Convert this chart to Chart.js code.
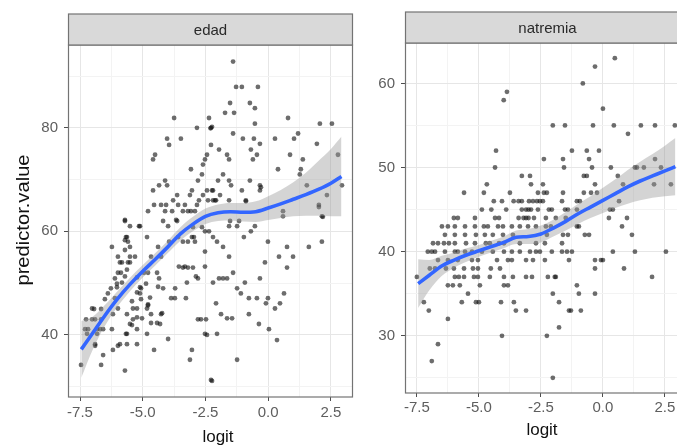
<!DOCTYPE html>
<html>
<head>
<meta charset="utf-8">
<script src="https://cdn.jsdelivr.net/npm/chart.js@4.4.1/dist/chart.umd.min.js"></script>
<style>
  html, body { margin: 0; width: 677px; height: 446px; overflow: hidden; background: #fff; }
  canvas { position: absolute; top: 0; filter: blur(0.45px); }
  #edad { left: 0; }
  #natremia { left: 360px; }
</style>
</head>
<body>
<canvas id="edad" width="360" height="446"></canvas>
<canvas id="natremia" width="337" height="446"></canvas>
<script>
// grid breaks (major ones get a label) and loess fit
const xBreaks = [-7.5, -6.25, -5, -3.75, -2.5, -1.25, 0, 1.25, 2.5];
const xLabels = [-7.5, -5, -2.5, 0, 2.5];
const edadBreaks = [30, 40, 50, 60, 70, 80, 90];
const edadLabels = [40, 60, 80];
const natremiaBreaks = [25, 30, 35, 40, 45, 50, 55, 60];
const natremiaLabels = [30, 40, 50, 60];

const fitX = [-7.45, -7, -6.5, -6, -5.5, -5, -4.5, -4, -3.5, -3, -2.5, -2, -1.5, -1, -0.5, 0, 0.5, 1, 1.5, 2, 2.5, 2.92];
const edadFit = [37.2, 40.3, 43.8, 47.0, 49.8, 52.3, 54.6, 57.0, 59.5, 61.4, 62.9, 63.6, 63.8, 63.7, 63.8, 64.5, 65.3, 66.2, 67.1, 68.1, 69.3, 70.6];
const edadUpper = [42.7, 43.5, 45.8, 48.5, 51.1, 53.5, 55.8, 58.2, 60.8, 62.8, 64.4, 65.2, 65.5, 65.5, 65.8, 66.8, 68.0, 69.5, 71.3, 73.6, 75.9, 78.3];
const edadLower = [31.7, 37.1, 41.8, 45.5, 48.5, 51.1, 53.4, 55.8, 58.2, 60.0, 61.4, 62.0, 62.1, 61.9, 61.8, 62.2, 62.6, 62.9, 63.0, 63.0, 62.9, 62.9];
const natremiaFit = [36.2, 37.2, 38.3, 39.0, 39.6, 40.1, 40.6, 41.1, 41.7, 41.8, 42.1, 42.8, 43.6, 44.5, 45.3, 46.1, 46.9, 47.7, 48.4, 49.0, 49.6, 50.1];
const natremiaUpper = [39.1, 39.0, 39.5, 39.9, 40.4, 40.8, 41.3, 41.8, 42.5, 42.7, 43.1, 43.8, 44.7, 45.7, 46.6, 47.6, 48.6, 49.7, 50.7, 51.6, 52.6, 53.5];
const natremiaLower = [33.3, 35.4, 37.1, 38.1, 38.8, 39.4, 39.9, 40.4, 40.9, 40.9, 41.1, 41.8, 42.5, 43.3, 44.0, 44.6, 45.2, 45.7, 46.1, 46.4, 46.6, 46.7];

// observations: [logit, predictor.value]
const edadPoints = [
  [-3.75,81.9],[-2.36,81.9],[-2.84,80],[-2.28,80],[-2.24,80.2],[-2.3,79.9],[-4.03,77.9],[-3.95,76.7],[-3.48,77.9],[-2.28,76.7],
  [-4.51,74.8],[-4.59,73.9],[-2.44,74.8],[-2.52,73.9],[-2.6,72.9],[-3.08,72],[-2.64,71],[-2.8,69.8],[-4.11,69.8],[-4.35,68.9],
  [-4.03,68.9],[-4.59,67.9],[-3.04,67.9],[-3.12,67],[-2.44,67.9],[-2.24,67.9],[-4.55,65.1],[-4.79,63.9],[-4.27,65.1],[-4.11,63.9],
  [-3.79,66],[-3.63,67],[-3.83,63.9],[-3.4,63.9],[-3.32,65.1],[-3.2,63.9],[-2.92,63.9],[-2.76,66],[-2.4,66],[-5.71,62],
  [-4.19,62],[-3.63,62],[-3.59,65.1],[-3.08,63.9],[-2.84,65.1],[-2.2,66],[-2.08,66],[-2.6,67],[-4.07,65.1],[-5.11,61],
  [-1.4,92.8],[-1.28,87.9],[-1.05,87.9],[-0.41,87.9],[-1.52,84.8],[-1.72,82.9],[-1.36,82.9],[-0.73,84.8],[-0.53,83.8],[-0.53,80.8],
  [0.79,81.9],[2.06,80.8],[2.54,80.8],[-1.4,78.9],[-1.01,77.9],[-0.57,77.9],[-0.33,76.9],[-0.69,75.8],[-0.45,74.8],[-0.61,73.9],
  [-1.96,75.8],[-1.64,74.8],[-1.56,73.9],[0.27,77.9],[1.03,77.9],[1.19,78.9],[0.87,74.8],[1.38,73.9],[1.94,76.9],[2.78,74.8],
  [0.39,72],[1.3,72],[1.26,71],[-1.8,71],[-2,69.8],[-1.56,69.8],[-1.48,68.9],[-0.73,69.8],[-0.33,68.9],[-0.33,67.9],
  [-1.05,67.9],[-2.2,67.9],[1.54,68.9],[2.94,68.9],[2.34,67],[2.02,65.1],[2.14,62.9],[-1.92,67],[-2.12,66],[-1.56,66],
  [-0.89,66],[0.59,63.9],[0.59,62.9],[-1.52,62],[-1.16,62],[-1.24,61],[-0.89,65.8],[-0.29,68.5],[2.02,64.7],[2.18,62.8],
  [-5.71,62.2],[-5.15,61],[-5.51,61],[-3.99,61],[-3.67,62.2],[-5.63,58.9],[-5.59,58],[-5.51,57],[-4.83,58.9],[-6.23,57],
  [-5.99,55.1],[-5.91,54],[-5.83,54],[-5.51,55.1],[-5.51,54],[-5.31,55.1],[-4.39,57],[-4.27,55.1],[-4.67,55.1],[-3.95,58],
  [-3.4,58],[-2.92,58],[-2.96,58.9],[-5.99,52],[-5.87,52],[-6.11,50.9],[-6.03,49.9],[-6.27,49],[-6.39,48],[-6.51,46.9],
  [-6.66,45],[-6.94,45],[-7.02,43],[-7.18,41.1],[-6.66,43],[-6.58,41.1],[-4.95,52],[-4.79,52],[-4.43,52],[-4.35,50.9],
  [-4.87,49.9],[-5.07,49],[-5.11,48],[-5.07,46.9],[-4.79,45.7],[-4.83,45.1],[-4.67,44],[-5.23,45.1],[-5.63,44],[-5.39,43],
  [-5.51,42.1],[-5.23,41.1],[-4.19,49],[-3.72,47.1],[-3.28,47.1],[-4.27,44],[-4.31,42.1],[-3.99,39.2],[-3.56,53.2],[-3.32,53.2],
  [-2.88,51.3],[-2.52,53.2],[-2.52,56.1],[-2.68,43],[-2.52,40.2],[-3.04,37.1],[-3.12,35.2],[-2.28,31.3],[-7.46,34.2],[-6.66,34.2],
  [-6.58,36.1],[-6.9,38.2],[-6.19,37.1],[-5.91,38.2],[-5.63,38.2],[-5.23,38.2],[-5.71,33.1],[-5.63,40.2],[-4.83,40.2],[-4.55,37.1],
  [-2.44,40],[-2.48,43],[-2.8,43],[-7.02,45.1],[-6.9,43],[-6.82,41.1],[-6.19,44],[-5.99,45.1],[-6.11,47.1],[-6.03,49.2],
  [-5.83,50.1],[-5.71,51.3],[-5.63,52.6],[-5.59,54],[-5.71,56.4],[-5.71,58.3],[-5.67,58.9],[-5.23,51.1],[-5.11,49.2],[-5.23,48.2],
  [-5.43,46.5],[-5.39,45.1],[-5.23,43.4],[-5.43,41.9],[-4.79,45.9],[-4.71,47.2],[-4.39,49.3],[-6.23,41.1],[-6.7,41.1],[-7.26,43],
  [-7.3,41.1],[-7.22,40.2],[-6.82,40.2],[-6.9,37.9],[-5.99,37.9],[-5.67,40.2],[-4.67,42.3],[-4.43,42.3],[-5.03,43.2],[-4.23,44.2],
  [-3.87,47.1],[-3.71,49],[-3.4,53],[-3.2,53],[-3.0,53],[-3.24,50.1],[-2.8,50.9],[-3.59,58.9],[-3.2,58],[-3.04,58.9],
  [-2.52,60],[-2.36,60],[-3.0,60.8],[-2.64,60.8],
  [-1.56,61],[-0.53,61],[-0.69,60],[-0.97,58.9],[-2.2,58.9],[-2.04,58],[-1.8,57],[-1.56,55.1],[-0.01,58],[0.75,57],
  [1.62,57],[2.14,58],[0.43,55.1],[0.99,55.1],[0.75,53],[-0.13,54],[-1.4,52],[-0.33,50.9],[-0.93,50.1],[-1.96,50.9],
  [-1.8,50.9],[-1.64,50.9],[-2.2,50.1],[-1.24,49],[-1.09,48],[-0.77,47.1],[-0.45,47.1],[-0.01,47.1],[-0.09,46.1],[0.27,45.1],
  [0.47,46.1],[0.63,48],[-2.08,46.1],[-1.88,44],[-1.64,43.2],[-1.44,43.2],[-0.77,44],[-0.37,42.1],[0.03,41.1],[0.35,39],
  [-2.04,40.2],[-1.24,35.2],[-2.24,31.1]
];

const natremiaPoints = [
  [0.48,63],[-0.32,62],[-0.81,60],[-3.87,59],[-4.0,58],[0.0,57],
  [-2.02,55],[-1.53,55],[-0.4,55],[0.44,55],[1.53,55],[2.1,55],[2.9,55],[1.01,54],
  [-4.31,52],[-1.25,52],[-0.65,52],[-0.16,52],[-2.38,51],[-1.61,51],[-0.56,51],[2.1,51],
  [-4.35,50],[-1.57,50],[-0.44,50],[0.32,50],[1.29,50],[1.37,50],[1.65,50],[2.34,50],
  [-3.27,49],[-2.94,49],[-0.77,49],[-0.65,49],[0.6,49],
  [-4.68,48],[-2.9,48],[-2.42,48],[-0.32,48],[0.81,48],[2.06,48],[2.74,48],
  [-5.6,47],[-4.8,47],[-3.75,47],[-2.62,47],[-2.38,47],[-2.26,47],[-1.61,47],[-0.77,47],[-0.48,47],[-0.24,47],
  [-4.4,46],[-4.07,46],[-3.6,46],[-3.4,46],[-3.27,46],[-2.98,46],[-2.82,46],[-2.66,46],[-2.54,46],[-2.42,46],[-1.65,46],[-1.05,46],[-0.93,46],[0.65,46],
  [-4.88,45],[-4.5,45],[-3.9,45],[-3.27,45],[-3.1,45],[-3.0,45],[-2.9,45],[-2.62,45],[-2.18,45],[-2.06,45],[-1.53,45],[-1.41,45],[-1.05,45],[0.28,45],[0.4,45],
  [-6.01,44],[-5.85,44],[-5.16,44],[-4.35,44],[-4.19,44],[-3.4,44],[-3.2,44],[-3.1,44],[-3.0,44],[-2.78,44],[-2.3,44],[-1.9,44],[-1.5,44],[0.24,44],[0.97,44],
  [-6.49,43],[-6.25,43],[-5.97,43],[-5.56,43],[-5.16,43],[-4.8,43],[-4.64,43],[-4.23,43],[-4.03,43],[-3.67,43],[-3.35,43],[-3.02,43],[-2.7,43],[-2.3,43],[-2.1,43],[-1.05,43],[-0.97,43],[0.77,43],
  [-6.37,42],[-5.97,42],[-5.56,42],[-5.12,42],[-4.76,42],[-4.44,42],[-4.03,42],[-3.63,42],[-2.26,42],[-1.61,42],[-1.41,42],[-0.73,42],[-0.56,42],[1.17,42],
  [-6.85,41],[-6.65,41],[-6.41,41],[-6.21,41],[-5.97,41],[-5.52,41],[-5.16,41],[-4.72,41],[-4.56,41],[-4.19,41],[-3.99,41],[-3.35,41],[-2.7,41],[-2.34,41],[-1.65,41],
  [-7.06,40],[-6.9,40],[-6.77,40],[-6.37,40],[-5.97,40],[-5.85,40],[-5.56,40],[-5.28,40],[-4.88,40],[-4.44,40],[-3.99,40],[-3.67,40],[-3.35,40],[-2.94,40],[-2.7,40],[-2.54,40],[-2.06,40],[-1.65,40],[-1.45,40],[-1.25,40],[0.4,40],[1.29,40],[2.54,40],
  [-6.65,39],[-6.25,39],[-5.85,39],[-5.28,39],[-5.04,39],[-4.27,39],[-3.83,39],[-3.67,39],[-3.1,39],[-2.82,39],[-2.34,39],[-1.37,39],[-0.32,39],[-0.08,39],[0.0,39],
  [-6.98,38],[-6.77,38],[-6.33,38],[-6.01,38],[-5.6,38],[-5.24,38],[-5.04,38],[-4.52,38],[-4.15,38],[-0.32,38],[0.85,38],
  [-7.5,37],[-5.97,37],[-5.81,37],[-5.6,37],[-5.2,37],[-5.04,37],[-4.56,37],[-3.99,37],[-3.63,37],[-3.1,37],[-2.86,37],[-2.22,37],[-1.94,37],[-1.9,37],[1.98,37],
  [-6.25,36],[-6.05,36],[-5.77,36],[-4.96,36],[-3.99,36],[-3.83,36],[-1.05,36],
  [-5.44,35],[-2.02,35],[-0.97,35],[-0.32,35],
  [-7.22,34],[-5.69,34],[-5.12,34],[-5.0,34],[-4.11,34],[-3.59,34],[-1.77,34],
  [-7.02,33],[-3.51,33],[-3.1,33],[-1.37,33],[-1.29,33],[-0.89,33],
  [-6.25,32],[-1.77,31],[-4.07,30],[-2.26,30],[-6.65,29],[-6.9,27],[-2.02,25]
];

const FONT = '"Liberation Sans", Arial, Helvetica, sans-serif';

// facet strip, panel border and axis titles, drawn around the chart area
const facetDecor = {
  id: 'facetDecor',
  afterDraw(chart, args, o) {
    const { ctx, chartArea: a } = chart;
    ctx.save();
    ctx.strokeStyle = '#737373';
    ctx.lineWidth = 1.2;
    ctx.strokeRect(a.left + 0.5, a.top, a.right - a.left - 1, a.bottom - a.top);

    const top = a.top - o.stripHeight;
    ctx.fillStyle = '#d9d9d9';
    ctx.fillRect(a.left + 0.5, top, a.right - a.left - 1, o.stripHeight);
    ctx.strokeRect(a.left + 0.5, top, a.right - a.left - 1, o.stripHeight);

    ctx.fillStyle = '#2a2a2a';
    ctx.textAlign = 'center';
    ctx.textBaseline = 'middle';
    ctx.font = '15px ' + FONT;
    ctx.fillText(o.label, (a.left + a.right) / 2, top + o.stripHeight / 2 + 1);

    ctx.fillStyle = '#111';
    ctx.font = '17px ' + FONT;
    ctx.fillText('logit', o.xTitle[0], o.xTitle[1]);

    if (o.yTitle) {
      ctx.translate(o.yTitlePos[0], o.yTitlePos[1]);
      ctx.rotate(-Math.PI / 2);
      ctx.scale(1.12, 1);
      ctx.font = '18px ' + FONT;
      ctx.fillText(o.yTitle, 0, 0);
    }
    ctx.restore();
  }
};

function gridFor(labels) {
  return {
    color: c => labels.includes(c.tick.value) ? '#e6e6e6' : '#f3f3f3',
    lineWidth: 1,
    tickLength: 4,
    tickWidth: 1,
    tickColor: c => labels.includes(c.tick.value) ? '#4d4d4d' : 'rgba(0,0,0,0)'
  };
}

function xy(xs, ys) {
  return xs.map((x, i) => ({ x: x, y: ys[i] }));
}

function makePanel(id, p) {
  return new Chart(document.getElementById(id), {
    type: 'scatter',
    data: {
      datasets: [
        {
          type: 'line', data: xy(fitX, p.fit), borderColor: '#3366ff', borderWidth: 3.6,
          pointRadius: 0, fill: false, cubicInterpolationMode: 'monotone', order: 0
        },
        {
          type: 'line', data: xy(fitX, p.upper), borderColor: 'rgba(0,0,0,0)', borderWidth: 1,
          pointRadius: 0, fill: '+1', backgroundColor: 'rgba(153,153,153,0.42)',
          cubicInterpolationMode: 'monotone', order: 1
        },
        {
          type: 'line', data: xy(fitX, p.lower), borderColor: 'rgba(0,0,0,0)', borderWidth: 1,
          pointRadius: 0, fill: false, cubicInterpolationMode: 'monotone', order: 2
        },
        {
          data: p.points.map(([x, y]) => ({ x, y })), pointRadius: 2.4,
          backgroundColor: 'rgba(20,20,20,0.62)', borderWidth: 0, order: 3
        }
      ]
    },
    options: {
      responsive: false,
      animation: false,
      events: [],
      layout: { padding: { left: 0, right: 7, top: p.top, bottom: 0 } },
      plugins: {
        legend: { display: false },
        tooltip: { enabled: false },
        facetDecor: p.decor
      },
      scales: {
        x: {
          type: 'linear', min: p.xMin, max: p.xMax,
          afterBuildTicks: s => { s.ticks = xBreaks.map(value => ({ value })); },
          afterFit: s => { s.height = p.xAxisHeight; },
          ticks: {
            autoSkip: false, maxRotation: 0, padding: p.xPad, color: '#5e5e5e',
            font: { family: FONT, size: 15 },
            callback: v => xLabels.includes(v) ? v.toFixed(1) : ''
          },
          grid: gridFor(xLabels),
          border: { display: false }
        },
        y: {
          type: 'linear', min: p.yMin, max: p.yMax,
          afterBuildTicks: s => { s.ticks = p.yBreaks.map(value => ({ value })); },
          afterFit: s => { s.width = p.yAxisWidth; },
          ticks: {
            autoSkip: false, padding: 6, color: '#5e5e5e',
            font: { family: FONT, size: 15 },
            callback: v => p.yLabels.includes(v) ? String(v) : ''
          },
          grid: gridFor(p.yLabels),
          border: { display: false }
        }
      }
    },
    plugins: [facetDecor]
  });
}

makePanel('edad', {
  fit: edadFit, upper: edadUpper, lower: edadLower, points: edadPoints,
  xMin: -7.98, xMax: 3.38, yMin: 28.0, yMax: 96.0,
  yBreaks: edadBreaks, yLabels: edadLabels,
  top: 45, xAxisHeight: 49, yAxisWidth: 68, xPad: 3,
  decor: { label: 'edad', stripHeight: 31, xTitle: [218, 437], yTitle: 'predictor.value', yTitlePos: [24, 220] }
});

makePanel('natremia', {
  fit: natremiaFit, upper: natremiaUpper, lower: natremiaLower, points: natremiaPoints,
  xMin: -7.98, xMax: 3.51, yMin: 23.2, yMax: 64.8,
  yBreaks: natremiaBreaks, yLabels: natremiaLabels,
  top: 43, xAxisHeight: 53, yAxisWidth: 45, xPad: 2,
  decor: { label: 'natremia', stripHeight: 31, xTitle: [182, 430] }
});
</script>
</body>
</html>
